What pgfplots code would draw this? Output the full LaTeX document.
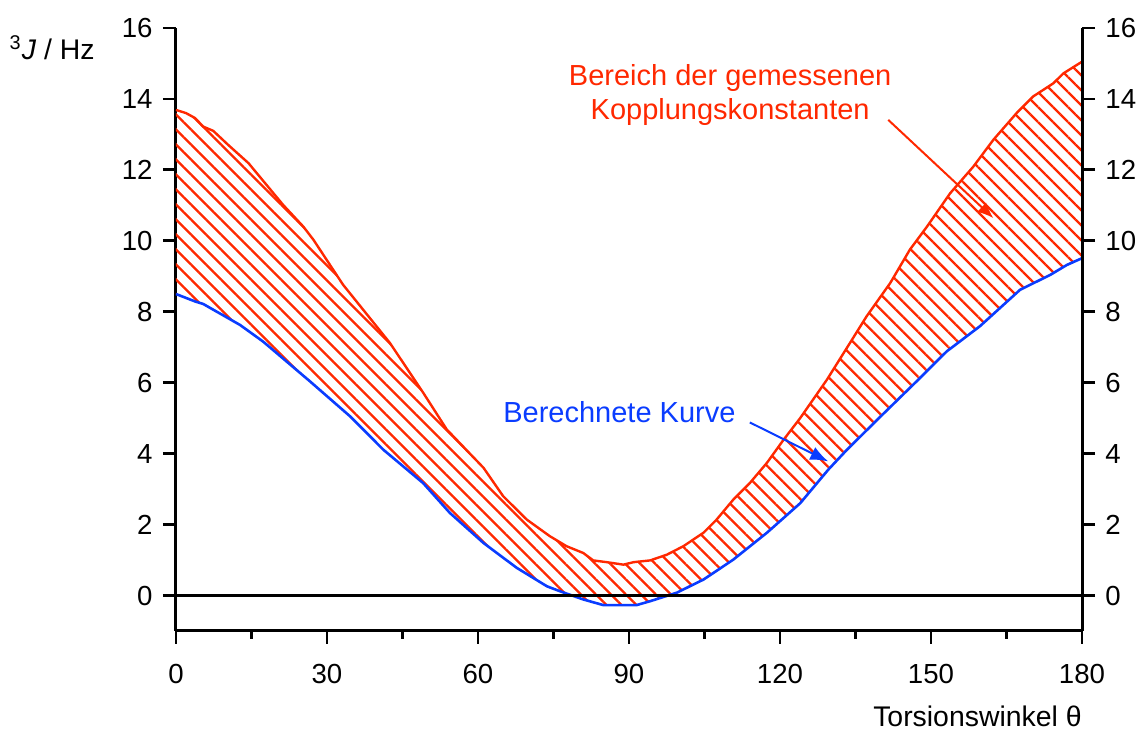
\documentclass[border=0pt]{standalone}
\usepackage{fontspec}
\setmainfont{Liberation Sans}
\usepackage{pgfplots}
\pgfplotsset{compat=1.18}
\usepgfplotslibrary{fillbetween}
\usetikzlibrary{patterns.meta,arrows.meta}

\definecolor{jred}{RGB}{255,40,0}
\definecolor{jblue}{RGB}{10,60,255}

\pgfplotsset{
  jbase/.style={
    scale only axis,
    width=453pt, height=301.5pt,
    xmin=0, xmax=180, ymin=-1, ymax=16,
    ytick={0,2,...,16},
    tick align=outside,
    major tick length=6.5pt,
    minor tick length=4pt,
    tick style={black, line width=1.4pt},
    axis line style={black, line width=1.5pt},
    /pgf/number format/assume math mode=true,
    ticklabel style={font=\fontsize{13.8}{16}\selectfont},
  }
}

\begin{document}
\begin{tikzpicture}
\begin{axis}[
  jbase,
  name=ax1,
  clip=false,
  axis x line*=bottom,
  axis y line*=left,
  xtick={0,30,...,180},
  minor x tick num=1,
  yticklabel style={anchor=east, inner sep=0pt, xshift=-5pt},
  xticklabel style={anchor=base, inner sep=0pt, yshift=-20pt},
  xlabel={Torsionswinkel θ},
  ylabel={\textsuperscript{3}\textit{J} / Hz},
  every axis x label/.style={at={(rel axis cs:1,0)}, anchor=base east, inner sep=0pt, yshift=-48pt, font=\fontsize{14.2}{17}\selectfont},
  every axis y label/.style={at={(rel axis cs:0,1)}, anchor=base east, inner sep=0pt, xshift=-40.5pt, yshift=-16pt, font=\fontsize{14.2}{17}\selectfont},
]
\coordinate (BL) at (rel axis cs:0,0);

% obere Grenze der gemessenen Kopplungskonstanten
\addplot[name path=up, jred, line width=1.2pt] coordinates {
  (0,13.69) (2,13.6) (3.8,13.46) (5.4,13.22) (7.4,13.1) (10.4,12.7)
  (14.4,12.19) (21.3,11.01) (25.3,10.4) (27.3,10.03) (33.2,8.76)
  (42.5,7.12) (49.1,5.72) (53.8,4.68) (61.1,3.6) (65,2.8) (69.7,2.14)
  (74.3,1.67) (77.6,1.39) (80.9,1.2) (82.9,0.99) (85.6,0.94) (88.9,0.87)
  (90.9,0.94) (94.2,0.99) (97.5,1.15) (100.8,1.39) (104.8,1.77)
  (107.4,2.14) (110.7,2.7) (114,3.17) (117.4,3.74) (120.7,4.39)
  (124,5.0) (129.3,6.08) (133.9,7.12) (137.2,7.87) (141.9,8.81)
  (145.8,9.75) (149.2,10.4) (153.8,11.34) (158.4,12.09) (162.4,12.85)
  (167,13.6) (170.3,14.07) (174.3,14.44) (176.3,14.72) (180,15.05)
};

% berechnete Kurve
\addplot[name path=lo, jblue, line width=1.3pt] coordinates {
  (0,8.5) (3.8,8.29) (5.4,8.22) (12.7,7.63) (17.3,7.16) (26.6,6.04)
  (34.6,5.05) (41.2,4.11) (49.1,3.17) (54.4,2.33) (61.1,1.48)
  (67.7,0.78) (73.7,0.26) (76.3,0.12) (80.9,-0.11) (84.9,-0.27)
  (91.5,-0.27) (94.2,-0.16) (99.5,0.08) (104.8,0.45) (110.7,1.01)
  (117.4,1.77) (124,2.6) (129.6,3.55) (133.3,4.11) (140,5.05)
  (147.8,6.13) (153.1,6.88) (159.7,7.59) (167.7,8.62) (173.7,9.04)
  (177,9.32) (180,9.51)
};

\addplot[draw=none, pattern={Lines[angle=-45, distance=5.3pt, line width=1.15pt]}, pattern color=jred]
  fill between[of=up and lo];

\draw[black, line width=1.2pt] (axis cs:0,0) -- (axis cs:180,0);

\node[jred, anchor=base, font=\fontsize{14.5}{17}\selectfont] at (axis cs:110.1,14.39) {Bereich der gemessenen};
\node[jred, anchor=base, font=\fontsize{14.5}{17}\selectfont] at (axis cs:110.1,13.41) {Kopplungskonstanten};
\draw[jred, line width=1pt, -{Latex[length=8pt, width=6.5pt]}] (axis cs:141.5,13.41) -- (axis cs:162.4,10.64);

\node[jblue, anchor=base, font=\fontsize{14.5}{17}\selectfont] at (axis cs:88.1,4.88) {Berechnete Kurve};
\draw[jblue, line width=1pt, -{Latex[length=9pt, width=7pt]}] (axis cs:114.0,4.88) -- (axis cs:129.6,3.78);
\end{axis}

\begin{axis}[
  jbase,
  at={(ax1.south west)}, anchor=south west,
  axis x line=none,
  axis y line*=right,
  yticklabel style={anchor=west, inner sep=0pt, xshift=5pt},
]
\addplot[draw=none] coordinates {(0,0)};
\end{axis}

\pgfresetboundingbox
\path ([shift={(-88pt,-51pt)}]BL) rectangle ([shift={(482.5pt,315.5pt)}]BL);
\end{tikzpicture}
\end{document}
